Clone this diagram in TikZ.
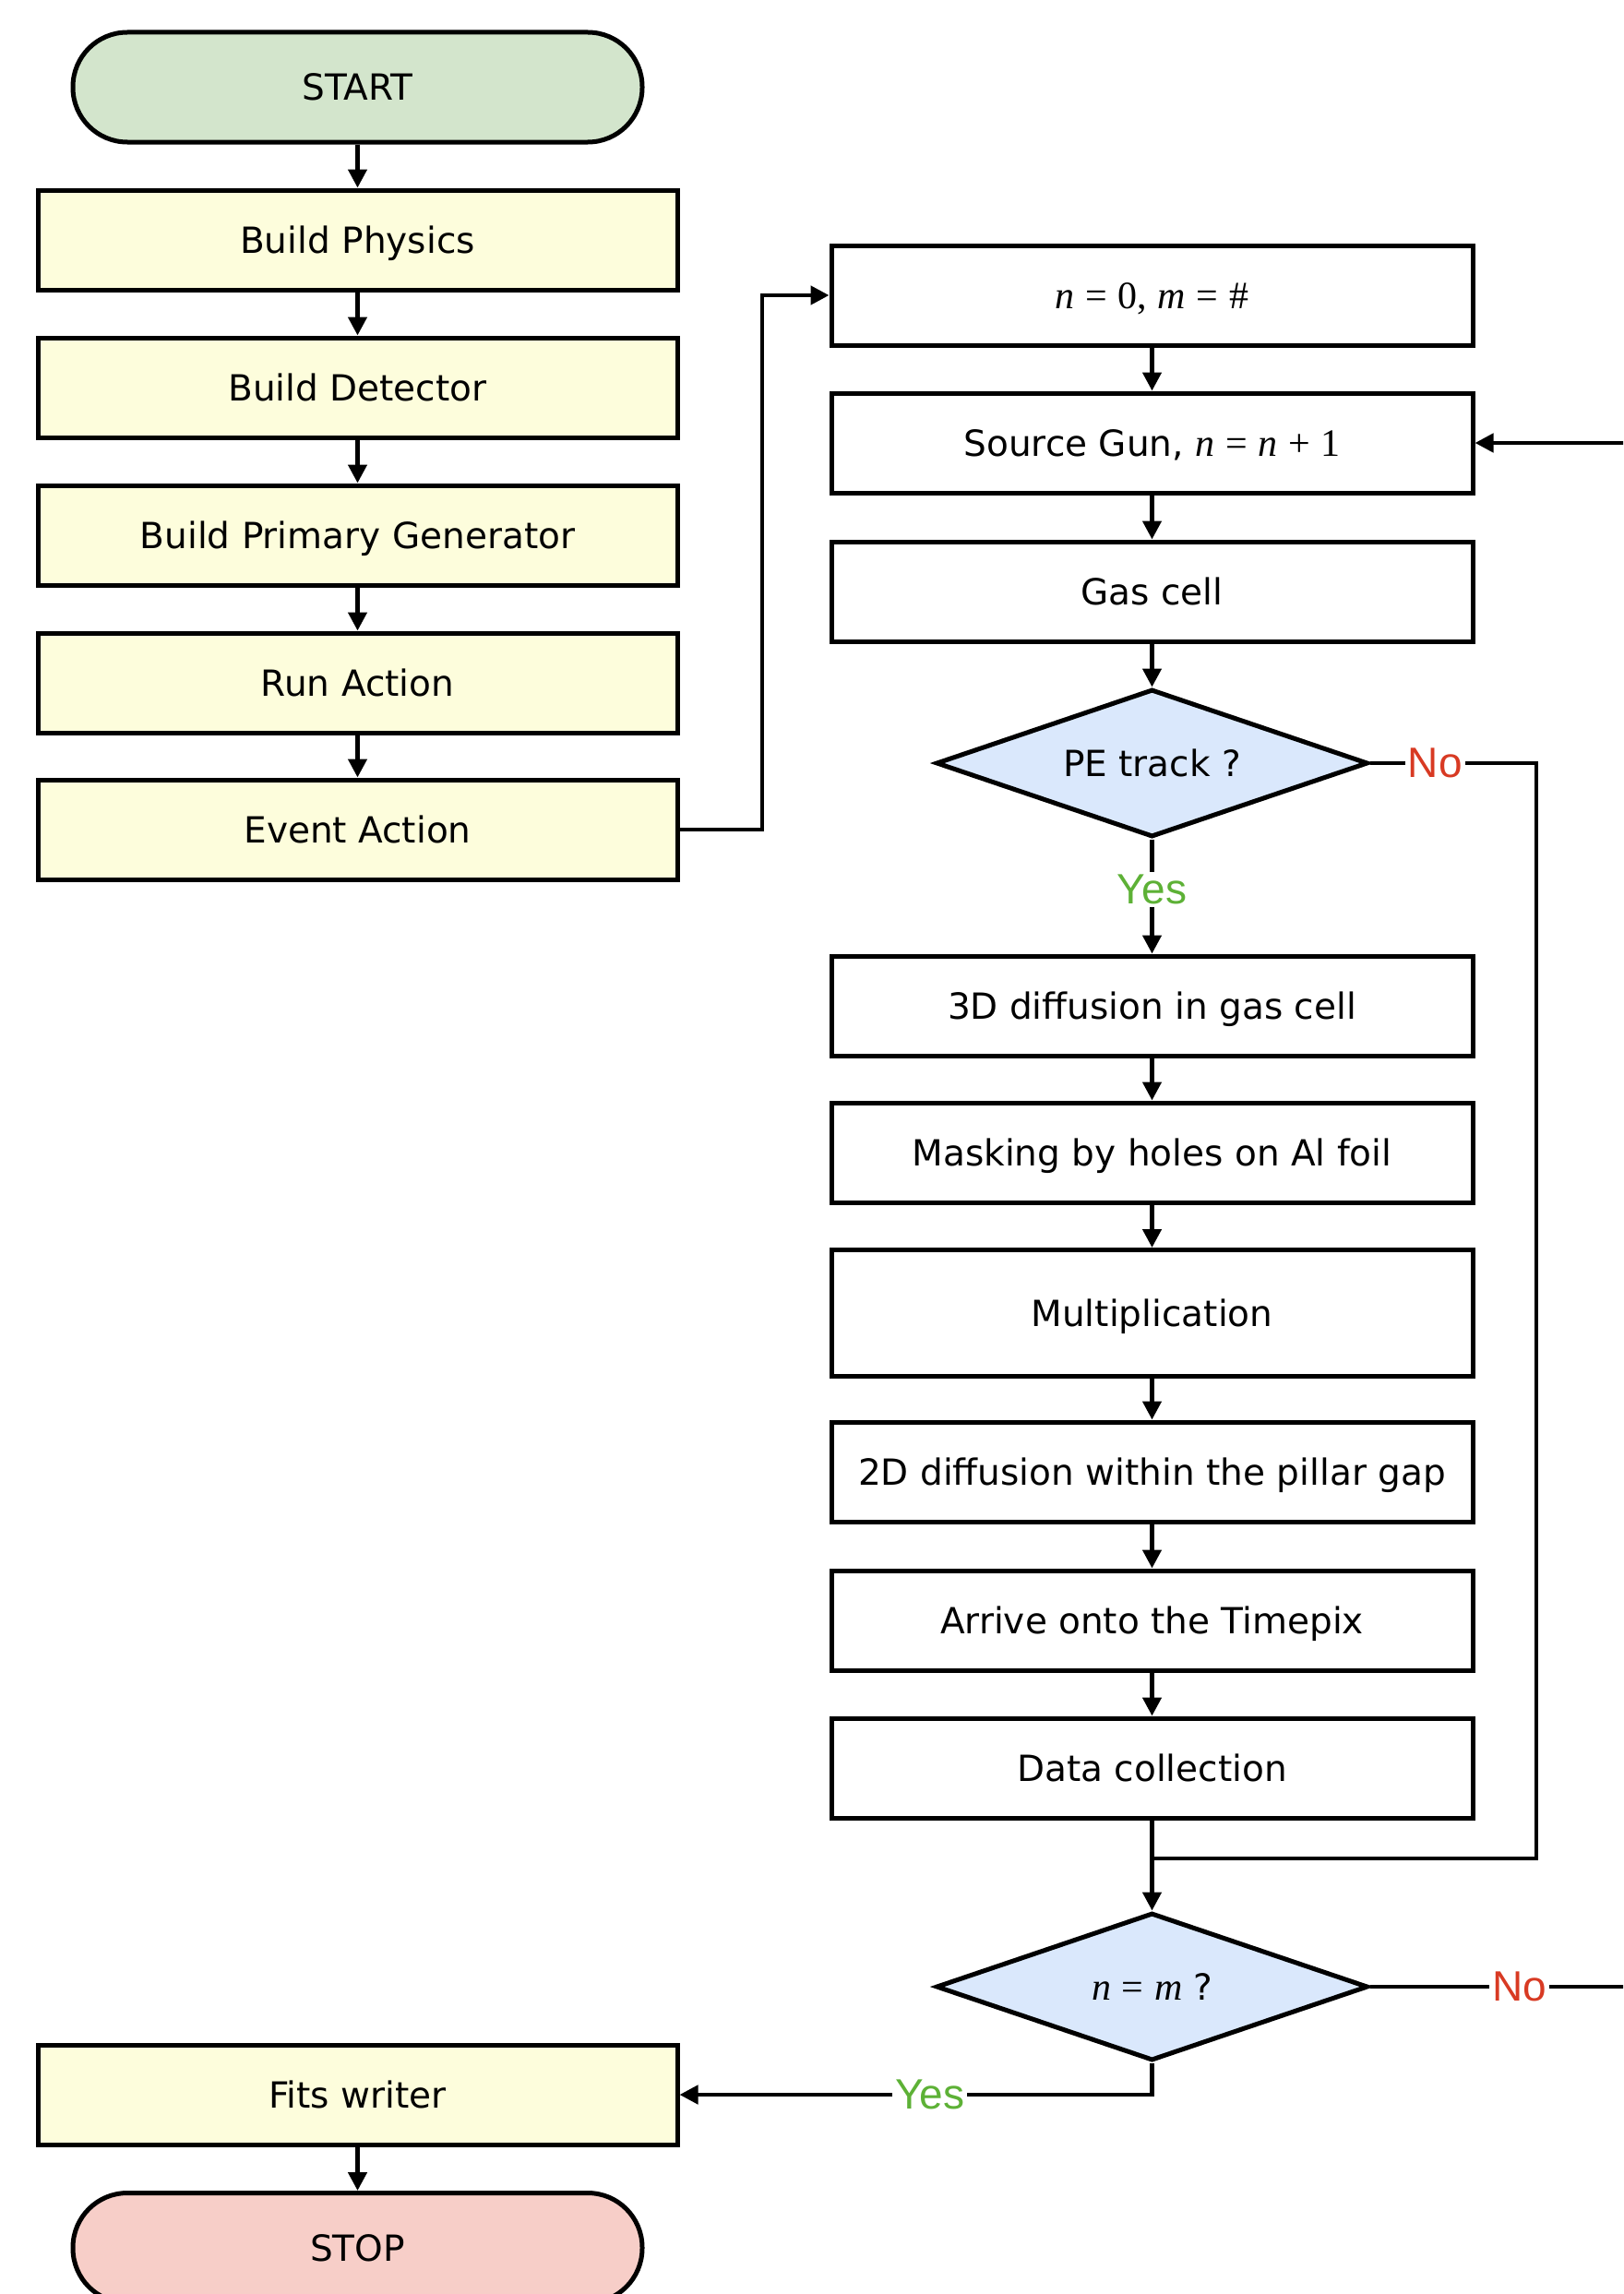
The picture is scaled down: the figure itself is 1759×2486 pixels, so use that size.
\documentclass[tikz,border=0pt]{standalone}
\usepackage{fontspec}
\setmainfont{DejaVu Sans}
\newfontfamily\labelfont{Liberation Sans}
\newfontfamily\tmsfont{Liberation Serif}
\usetikzlibrary{shapes.geometric,arrows.meta}

\definecolor{startgreen}{HTML}{D3E5CC}
\definecolor{stoppink}{HTML}{F7CEC8}
\definecolor{stepyellow}{HTML}{FDFDDC}
\definecolor{decblue}{HTML}{DAE8FC}
\definecolor{yesgreen}{HTML}{5DB136}
\definecolor{nored}{HTML}{D83A23}

% italic variable and relation sign in a Times-like face
\newcommand\var[1]{{\tmsfont\fontsize{42}{48}\selectfont\itshape #1}}
\newcommand\rel[1]{\hspace{0.3em}{\tmsfont\fontsize{42}{48}\selectfont #1}\hspace{0.3em}}
\newcommand\up[1]{{\tmsfont\fontsize{42}{48}\selectfont #1}}

\begin{document}
\begin{tikzpicture}[x=1pt,y=-1pt,
  base/.style={draw, line width=5pt, font=\fontsize{39}{47}\selectfont,
    inner sep=0pt, align=center, text height=28pt, text depth=0pt},
  leftbox/.style={base, rectangle, fill=stepyellow, minimum width=693pt, minimum height=108pt},
  rightbox/.style={base, rectangle, fill=white, minimum width=695pt, minimum height=108pt},
  term/.style={base, rectangle, rounded corners=59pt, minimum width=617pt, minimum height=119pt},
  decision/.style={base, diamond, aspect=2.9, fill=decblue, minimum width=468pt, minimum height=160pt},
  link/.style={line width=4.5pt},
  flow/.style={link, -{Triangle[length=20pt,width=20pt]}},
  yeslab/.style={fill=white, text=yesgreen, inner sep=3pt, font=\labelfont\fontsize{46}{52}\selectfont},
  nolab/.style={fill=white, text=nored, inner sep=3pt, font=\labelfont\fontsize{46}{52}\selectfont}]

\useasboundingbox (0,0) rectangle (1759,2486);
\clip (0,0) rectangle (1759,2486);

% left column: setup
\node[term, fill=startgreen] (start) at (387.5,94.5) {START};
\node[leftbox] (phys) at (387.5,260) {Build Physics};
\node[leftbox] (det)  at (387.5,420) {Build Detector};
\node[leftbox] (gen)  at (387.5,580) {Build Primary Generator};
\node[leftbox] (run)  at (387.5,740) {Run Action};
\node[leftbox] (evt)  at (387.5,899) {Event Action};
\node[leftbox] (fits) at (387.5,2270) {Fits writer};
\node[term, fill=stoppink] (stop) at (387.5,2436) {STOP};

% right column: per-event simulation loop
\node[rightbox] (init) at (1248.5,320) {\var{n}\rel{=}\up{0,}\hspace{0.3em}\var{m}\rel{=}\up{\#}};
\node[rightbox] (gun)  at (1248.5,480) {Source Gun, \var{n}\rel{=}\var{n}\rel{+}\up{1}};
\node[rightbox] (gas)  at (1248.5,641) {Gas cell};
\node[decision] (pe)   at (1248.5,827) {PE track ?};
\node[rightbox] (dif3) at (1248.5,1090) {3D diffusion in gas cell};
\node[rightbox] (mask) at (1248.5,1249) {Masking by holes on Al foil};
\node[rightbox, minimum height=137pt] (mult) at (1248.5,1423) {Multiplication};
\node[rightbox] (dif2) at (1248.5,1595) {2D diffusion within the pillar gap};
\node[rightbox] (arr)  at (1248.5,1756) {Arrive onto the Timepix};
\node[rightbox] (data) at (1248.5,1916) {Data collection};
\node[decision] (nm)   at (1248.5,2153) {\var{n}\rel{=}\var{m}\hspace{0.3em}?};

\coordinate (route) at (826,320);
\coordinate (peright) at (1665,827);
\coordinate (join) at (1248.5,2014);
\coordinate (loopS) at (1790,2153);
\coordinate (loopN) at (1790,480);

% connectors
\draw[flow] (start) -- (phys);
\draw[flow] (phys) -- (det);
\draw[flow] (det) -- (gen);
\draw[flow] (gen) -- (run);
\draw[flow] (run) -- (evt);
\draw[flow] (evt.east) -| (route) -- (init.west);
\draw[flow] (init) -- (gun);
\draw[flow] (gun) -- (gas);
\draw[flow] (gas) -- (pe);
\draw[flow] (pe) -- node[yeslab, pos=0.44] {Yes} (dif3);
\draw[flow] (dif3) -- (mask);
\draw[flow] (mask) -- (mult);
\draw[flow] (mult) -- (dif2);
\draw[flow] (dif2) -- (arr);
\draw[flow] (arr) -- (data);
\draw[flow] (data) -- (nm);
\draw[link] (pe.east) -- node[nolab, pos=0.39] {No} (peright) |- (join);
\draw[flow] (nm.east) -- node[nolab, pos=0.53] {No} (loopS) -- (loopN) -- (gun.east);
\draw[flow] (nm.south) |- node[yeslab, pos=0.735] {Yes} (fits.east);
\draw[flow] (fits) -- (stop);
\end{tikzpicture}
\end{document}
